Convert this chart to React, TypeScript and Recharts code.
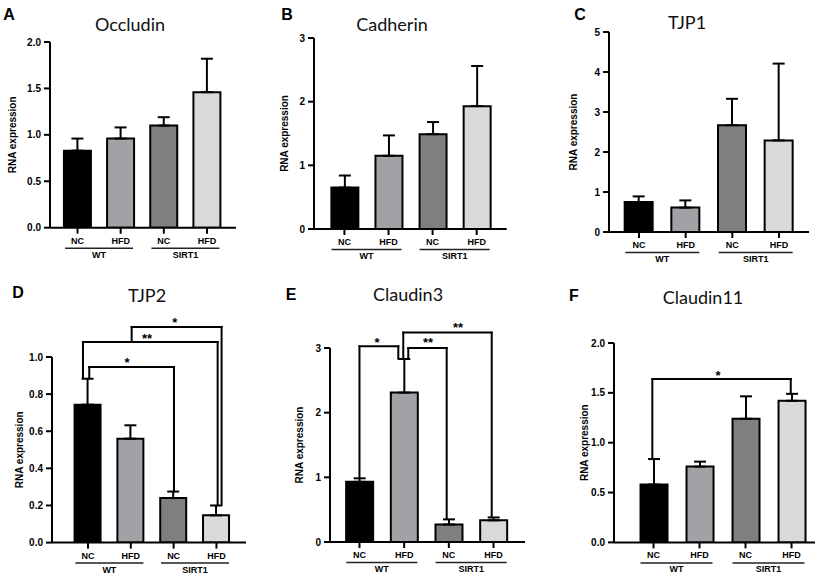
import React from 'react';
import { BarChart, Bar, XAxis, YAxis, Cell, ErrorBar, ReferenceLine, ReferenceDot } from 'recharts';

// ---- shared categories ----
const groups = ['NC', 'HFD', 'NC', 'HFD'];
const strains = ['WT', 'SIRT1'];
const barColors = ['#000000', '#a2a2a6', '#7f7f7f', '#d9d9d9'];
const xPositions = [1, 2, 3, 4];
const strainPositions = [1.5, 3.5];

// ---- series values (mean, upper error) ----
const occludinMean = [0.83, 0.96, 1.1, 1.46];
const occludinErr = [0.13, 0.12, 0.09, 0.36];
const occludinTicks = [0, 0.5, 1.0, 1.5, 2.0];

const cadherinMean = [0.65, 1.15, 1.49, 1.93];
const cadherinErr = [0.19, 0.32, 0.19, 0.63];
const cadherinTicks = [0, 1, 2, 3];

const tjp1Mean = [0.75, 0.61, 2.67, 2.29];
const tjp1Err = [0.14, 0.18, 0.66, 1.92];
const tjp1Ticks = [0, 1, 2, 3, 4, 5];

const tjp2Mean = [0.743, 0.56, 0.24, 0.147];
const tjp2Err = [0.14, 0.072, 0.035, 0.053];
const tjp2Ticks = [0, 0.2, 0.4, 0.6, 0.8, 1.0];

const claudin3Mean = [0.93, 2.31, 0.27, 0.335];
const claudin3Err = [0.055, 0.52, 0.08, 0.045];
const claudin3Ticks = [0, 1, 2, 3];

const claudin11Mean = [0.58, 0.76, 1.24, 1.42];
const claudin11Err = [0.256, 0.05, 0.225, 0.07];
const claudin11Ticks = [0, 0.5, 1.0, 1.5, 2.0];

// ---- significance brackets: legs at x1 (from y1 to y) and x2 (from y2 to y) ----
const tjp2Brackets = [
  { x1: 1.03, y1: 0.885, x2: 3.008, y2: 0.277, y: 0.946 },
  { x1: 0.883, y1: 0.885, x2: 4.028, y2: 0.202, y: 1.081 },
  { x1: 2.02, y1: 1.081, x2: 4.12, y2: 0.202, y: 1.162 },
];
const tjp2Stars = [
  { x: 1.91, y: 0.972, text: '*' },
  { x: 2.378, y: 1.098, text: '**' },
  { x: 3.03, y: 1.186, text: '*' },
];
const claudin3Brackets = [
  { x1: 1.0, y1: 0.99, x2: 1.869, y2: 2.835, y: 3.026 },
  { x1: 2.092, y1: 2.835, x2: 2.952, y2: 0.355, y: 3.0 },
  { x1: 1.98, y1: 2.835, x2: 3.96, y2: 0.385, y: 3.238 },
];
const claudin3Stars = [
  { x: 1.39, y: 3.085, text: '*' },
  { x: 2.533, y: 3.085, text: '**' },
  { x: 3.205, y: 3.315, text: '**' },
];
const claudin11Brackets = [{ x1: 0.974, y1: 0.84, x2: 3.983, y2: 1.493, y: 1.639 }];
const claudin11Stars = [{ x: 2.4, y: 1.678, text: '*' }];

const ARIAL = '"Liberation Sans", Arial, sans-serif';

const panels = [
  { letter: 'A', lx: 9, ly: 15, title: 'Occludin', tx: 130, ty: 24, mean: occludinMean, err: occludinErr, yTicks: occludinTicks, dec: 1,
    xl: 50, xr: 236, pt: 42.3, pb: 228, mt: 12, xDomain: [0.363, 4.672], barSize: 27, yLabelDist: 37.5, half: 34, brackets: [], stars: [] },
  { letter: 'B', lx: 287, ly: 15, title: 'Cadherin', tx: 392, ty: 23.5, mean: cadherinMean, err: cadherinErr, yTicks: cadherinTicks, dec: 0,
    xl: 314.3, xr: 507, pt: 37.7, pb: 228.7, mt: 12, xDomain: [0.31, 4.68], barSize: 27, yLabelDist: 29, half: 35, brackets: [], stars: [] },
  { letter: 'C', lx: 580, ly: 15, title: 'TJP1', tx: 687, ty: 22, mean: tjp1Mean, err: tjp1Err, yTicks: tjp1Ticks, dec: 0,
    xl: 609, xr: 809, pt: 31.7, pb: 231.7, mt: 12, xDomain: [0.357, 4.643], barSize: 28, yLabelDist: 36, half: 37, brackets: [], stars: [] },
  { letter: 'D', lx: 18, ly: 293, title: 'TJP2', tx: 147, ty: 295, mean: tjp2Mean, err: tjp2Err, yTicks: tjp2Ticks, dec: 1,
    xl: 52, xr: 246, pt: 356.7, pb: 542.3, mt: 45, xDomain: [0.16, 4.69], barSize: 26, yLabelDist: 32, half: 34, brackets: tjp2Brackets, stars: tjp2Stars },
  { letter: 'E', lx: 291, ly: 295, title: 'Claudin3', tx: 408, ty: 294, mean: claudin3Mean, err: claudin3Err, yTicks: claudin3Ticks, dec: 0,
    xl: 330, xr: 525, pt: 347.7, pb: 541.7, mt: 45, xDomain: [0.34, 4.705], barSize: 27, yLabelDist: 31, half: 35.5, brackets: claudin3Brackets, stars: claudin3Stars },
  { letter: 'F', lx: 574, ly: 296, title: 'Claudin11', tx: 703, ty: 297, mean: claudin11Mean, err: claudin11Err, yTicks: claudin11Ticks, dec: 1,
    xl: 614, xr: 815, pt: 343.3, pb: 542.7, mt: 45, xDomain: [0.141, 4.51], barSize: 27, yLabelDist: 29, half: 36, brackets: claudin11Brackets, stars: claudin11Stars },
];

function GroupTick(props: any) {
  const { x, y, payload } = props;
  const i = xPositions.indexOf(payload.value);
  return (
    <text x={x} y={y + 8} textAnchor="middle" fontSize={9} fontWeight="bold" fontFamily={ARIAL} fill="#000">
      {groups[i]}
    </text>
  );
}

function StrainTick(props: any) {
  const { x, y, payload, half } = props;
  const i = strainPositions.indexOf(payload.value);
  if (i < 0) return null;
  return (
    <g>
      <line x1={x - half} x2={x + half} y1={y + 0.5} y2={y + 0.5} stroke="#222" strokeWidth={1.5} />
      <text x={x} y={y + 10} textAnchor="middle" fontSize={9} fontWeight="bold" fontFamily={ARIAL} fill="#000">
        {strains[i]}
      </text>
    </g>
  );
}

function YLabel(props: any) {
  const { viewBox, dist } = props;
  const vb = viewBox || { x: 0, y: 0, width: 45, height: 100 };
  const cx = vb.x + vb.width - dist;
  const cy = vb.y + vb.height / 2;
  return (
    <text x={cx} y={cy} transform={`rotate(-90, ${cx}, ${cy})`} textAnchor="middle" dominantBaseline="central"
      fontSize={10} fontWeight="bold" fontFamily={ARIAL} fill="#000">
      RNA expression
    </text>
  );
}

function Panel({ p }: { p: any }) {
  const YW = 45;
  const left = p.xl - YW;
  const top = p.pt - p.mt;
  const width = YW + (p.xr - p.xl) + 5;
  const height = p.mt + (p.pb - p.pt) + 40;
  const data = xPositions.map((x, i) => ({ x, v: p.mean[i], e: [0, p.err[i]] }));
  const yMax = p.yTicks[p.yTicks.length - 1];
  return (
    <div style={{ position: 'absolute', left, top }}>
      <BarChart width={width} height={height} data={data} margin={{ top: p.mt, right: 5, bottom: 0, left: 0 }}>
        <XAxis xAxisId="b" type="number" dataKey="x" domain={p.xDomain} ticks={strainPositions} interval={0}
          allowDataOverflow height={20} tickSize={0} tickMargin={0} axisLine={false} tickLine={false}
          tick={<StrainTick half={p.half} />} />
        <XAxis xAxisId="a" type="number" dataKey="x" domain={p.xDomain} ticks={xPositions} interval={0}
          allowDataOverflow height={20} tickSize={6} tickMargin={2}
          axisLine={{ stroke: '#000', strokeWidth: 2 }} tickLine={{ stroke: '#000', strokeWidth: 2 }}
          tick={<GroupTick />} />
        <YAxis type="number" domain={[0, yMax]} ticks={p.yTicks} interval={0} allowDataOverflow width={YW}
          tickSize={6} tickMargin={3} axisLine={{ stroke: '#000', strokeWidth: 2 }} tickLine={{ stroke: '#000', strokeWidth: 2 }}
          tick={{ fill: '#000', fontSize: 10, fontWeight: 'bold', fontFamily: ARIAL }}
          tickFormatter={(v: number) => v.toFixed(p.dec)}
          label={<YLabel dist={p.yLabelDist} />} />
        <Bar xAxisId="a" dataKey="v" barSize={p.barSize} stroke="#000" strokeWidth={2} isAnimationActive={false}>
          {data.map((d, i) => (
            <Cell key={i} fill={barColors[i]} />
          ))}
          <ErrorBar dataKey="e" width={6} stroke="#000" strokeWidth={2} direction="y" />
        </Bar>
        {p.brackets.map((b: any, i: number) => [
          <ReferenceLine key={`l${i}`} xAxisId="a" ifOverflow="visible" stroke="#000" strokeWidth={2} strokeLinecap="square"
            segment={[{ x: b.x1, y: b.y1 }, { x: b.x1, y: b.y }]} />,
          <ReferenceLine key={`h${i}`} xAxisId="a" ifOverflow="visible" stroke="#000" strokeWidth={2} strokeLinecap="square"
            segment={[{ x: b.x1, y: b.y }, { x: b.x2, y: b.y }]} />,
          <ReferenceLine key={`r${i}`} xAxisId="a" ifOverflow="visible" stroke="#000" strokeWidth={2} strokeLinecap="square"
            segment={[{ x: b.x2, y: b.y }, { x: b.x2, y: b.y2 }]} />,
        ])}
        {p.stars.map((s: any, i: number) => (
          <ReferenceDot key={`s${i}`} xAxisId="a" x={s.x} y={s.y} r={0} fill="none" stroke="none" ifOverflow="visible"
            label={{ value: s.text, position: 'center', fill: '#000', fontSize: 13, fontWeight: 'bold', fontFamily: ARIAL }} />
        ))}
      </BarChart>
    </div>
  );
}

export default function App() {
  return (
    <div style={{ position: 'absolute', left: 0, top: 0, width: 827, height: 581, background: '#fff', overflow: 'hidden' }}>
      {panels.map((p) => (
        <React.Fragment key={p.letter}>
          <div style={{ position: 'absolute', left: p.lx, top: p.ly, transform: 'translate(-50%, -50%)', lineHeight: 1,
            fontFamily: ARIAL, fontWeight: 'bold', fontSize: 16, color: '#000' }}>{p.letter}</div>
          <div style={{ position: 'absolute', left: p.tx, top: p.ty, transform: 'translate(-50%, -50%)', lineHeight: 1,
            fontFamily: 'Lato, "Open Sans", sans-serif', fontSize: 18, color: '#111', whiteSpace: 'nowrap' }}>{p.title}</div>
          <Panel p={p} />
        </React.Fragment>
      ))}
    </div>
  );
}
